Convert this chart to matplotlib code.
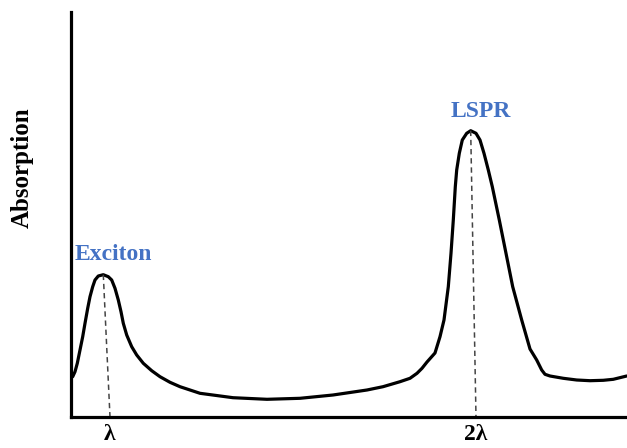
import matplotlib
matplotlib.use('Agg')
import matplotlib.pyplot as plt

# Schematic absorption spectrum (arbitrary units)
wavelength = [1.7, 4, 6.3, 9, 11.7, 14, 16.7, 19, 21.7, 24, 27.3, 32.3, 37.3,
              40.7, 44, 47.3, 50, 52.3, 55.7, 60.7, 65.7, 72.3, 80.7, 89, 99,
              109, 129, 162, 196, 229, 262, 296, 312, 329, 339, 346, 351, 356,
              364, 369, 373, 377.3, 380, 382.3, 384.3, 385.7, 388.3, 391.3,
              395.7, 399.7, 405, 409, 413, 417.3, 421.3, 428.3, 435, 441.7,
              450.7, 459, 465.7, 470.7, 474, 479, 492.3, 505.7, 519, 532.3,
              542.3, 555.7]
absorption = [40.3, 45.3, 53.7, 67, 80.3, 93.7, 108.7, 120.3, 130.3, 137, 141,
              142.3, 140.3, 137, 128.7, 117, 105.3, 93.7, 82, 70.3, 62, 53.7,
              46.3, 40.3, 34.7, 30.3, 23.7, 19.3, 17.7, 18.7, 22, 27, 30.3,
              35.3, 38.7, 43.7, 48.7, 55, 64, 80.3, 97, 130.3, 163.7, 197,
              230.3, 247, 263.7, 277, 283.7, 286.3, 283.7, 277, 263.7, 247,
              230.3, 197, 163.7, 130.3, 97, 68, 57, 47, 42.7, 41, 38.7, 37,
              36.3, 36.7, 37.7, 41]

peak_labels = ['Exciton', 'LSPR']
peak_x = [32.3, 399.7]
peak_y = [142.3, 286.3]
tick_pos = [39, 405]
tick_labels = ['λ', '2λ']

serif = ['Liberation Serif', 'DejaVu Serif']
blue = '#4472C4'

fig = plt.figure(figsize=(6.27, 4.48), dpi=100)
ax = fig.add_axes([71 / 627, 31 / 448, 556 / 627, 405 / 448])

ax.plot(wavelength, absorption, color='black', lw=2.3,
        solid_joinstyle='round', solid_capstyle='round')

for px, py, tx in zip(peak_x, peak_y, tick_pos):
    ax.plot([px, tx], [py, 0], color='#444444', lw=1.1,
            dashes=(3.5, 2.5))

ax.text(peak_x[0] + 10, 152, peak_labels[0], color=blue, fontsize=17,
        fontweight='bold', family=serif, ha='center', va='bottom')
ax.text(peak_x[1] + 10, 295, peak_labels[1], color=blue, fontsize=17,
        fontweight='bold', family=serif, ha='center', va='bottom')

ax.set_xlim(0, 556)
ax.set_ylim(0, 405)
ax.set_xticks(tick_pos)
ax.set_xticklabels(tick_labels, fontsize=17, fontweight='bold', family=serif)
ax.tick_params(axis='x', length=0, pad=5)
ax.set_yticks([])

ax.spines['top'].set_visible(False)
ax.spines['right'].set_visible(False)
for s in ('left', 'bottom'):
    ax.spines[s].set_linewidth(2.3)

fig.text(22 / 627, 1 - 168 / 448, 'Absorption', rotation=90, fontsize=18,
         fontweight='bold', family=serif, ha='center', va='center')

fig.savefig('out.png', dpi=100)
